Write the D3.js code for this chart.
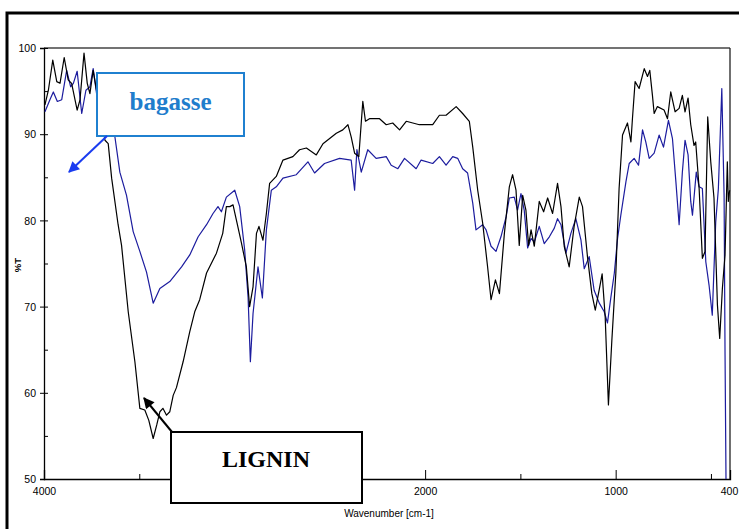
<!DOCTYPE html>
<html><head><meta charset="utf-8">
<script src="https://cdn.jsdelivr.net/npm/d3@7"></script>
<style>html,body{margin:0;padding:0;background:#fff;}svg{display:block;}</style>
</head><body>
<svg id="c" width="739" height="529"></svg>
<script>
// ---- data (wavenumber cm-1, %T) ----
const lignin = [
[3995,93.4],[3977,95.1],[3954,98.6],[3933,96.1],[3916,95.9],[3894,98.9],[3873,96.3],[3855,95.9],
[3826,92.8],[3811,94.0],[3790,99.4],[3773,95.9],[3759,94.7],[3742,97.4],[3707,92.8],[3680,89.3],
[3663,88.9],[3645,84.9],[3611,79.5],[3593,77.1],[3558,69.4],[3523,63.6],[3497,58.2],[3471,58.0],
[3450,56.8],[3427,54.7],[3408,56.3],[3392,57.8],[3376,58.2],[3357,57.4],[3340,57.8],[3322,59.7],
[3305,60.6],[3270,63.6],[3235,67.1],[3209,69.4],[3183,70.8],[3147,73.9],[3095,76.2],[3062,78.5],
[3043,81.6],[3025,81.6],[3008,81.8],[2990,80.0],[2964,77.4],[2938,74.6],[2921,70.0],[2903,72.3],
[2885,78.5],[2872,79.3],[2851,77.7],[2833,80.8],[2816,84.3],[2781,85.1],[2746,87.0],[2694,87.4],
[2659,88.2],[2623,88.4],[2597,88.0],[2571,87.6],[2536,88.9],[2501,89.5],[2466,90.1],[2432,90.5],
[2405,91.1],[2388,89.7],[2370,87.8],[2348,87.4],[2327,93.8],[2313,91.5],[2292,91.8],[2239,91.8],
[2204,91.1],[2170,91.3],[2134,90.5],[2099,91.5],[2030,91.1],[1960,91.1],[1925,92.2],[1890,92.2],
[1837,93.2],[1803,92.4],[1768,91.5],[1750,88.5],[1724,83.5],[1698,79.7],[1672,74.6],[1654,70.8],
[1631,73.1],[1610,71.5],[1584,78.5],[1558,83.9],[1541,85.3],[1523,83.5],[1506,77.1],[1488,82.9],
[1471,81.2],[1457,77.1],[1444,78.9],[1427,77.0],[1401,82.2],[1378,81.0],[1357,82.6],[1331,80.8],
[1305,84.3],[1287,81.6],[1270,77.0],[1244,74.6],[1218,79.3],[1191,82.7],[1174,81.6],[1148,75.8],
[1125,71.5],[1107,69.6],[1086,72.0],[1071,73.8],[1055,68.8],[1038,58.6],[1020,66.1],[999,73.9],
[982,83.7],[964,89.9],[938,91.3],[920,89.1],[912,91.8],[898,96.1],[877,95.3],[850,97.6],
[833,96.7],[821,97.4],[807,94.5],[798,92.4],[781,93.2],[746,92.8],[728,91.8],[711,94.9],
[688,92.6],[667,93.0],[650,94.5],[636,92.6],[620,94.2],[606,91.1],[589,88.7],[580,89.1],
[562,83.7],[545,75.6],[531,76.4],[517,92.0],[501,86.8],[484,82.6],[466,70.2],[454,66.3],
[440,72.1],[426,76.0],[414,86.8],[409,82.2],[402,83.5]
];
const bagasse = [
[3995,92.6],[3969,94.0],[3951,94.9],[3930,93.8],[3907,94.0],[3881,97.4],[3860,95.5],[3846,95.9],
[3826,97.3],[3802,92.4],[3780,95.1],[3759,95.5],[3742,97.6],[3724,94.7],[3707,95.7],[3680,94.0],
[3654,92.2],[3628,89.7],[3602,85.6],[3567,82.9],[3532,78.7],[3497,76.4],[3462,74.0],[3427,70.4],
[3392,72.1],[3340,72.9],[3278,74.6],[3235,76.0],[3191,78.1],[3147,79.5],[3113,80.8],[3087,81.6],
[3069,81.0],[3043,82.7],[2999,83.5],[2973,81.6],[2947,76.6],[2929,71.1],[2917,63.6],[2903,69.2],
[2877,74.6],[2854,71.0],[2833,78.9],[2807,83.5],[2781,83.9],[2746,84.9],[2676,85.3],[2615,86.8],
[2580,85.5],[2528,86.6],[2449,87.2],[2388,87.0],[2370,83.5],[2358,88.2],[2335,85.6],[2301,88.2],
[2257,87.2],[2204,87.4],[2178,86.4],[2143,86.0],[2108,87.2],[2047,86.0],[2021,87.0],[1960,86.6],
[1925,87.4],[1890,86.4],[1855,87.4],[1829,87.2],[1803,86.0],[1777,85.5],[1750,82.0],[1733,78.9],
[1698,79.5],[1680,78.9],[1654,77.0],[1628,76.4],[1602,78.1],[1575,80.4],[1558,82.6],[1532,82.7],
[1515,81.2],[1497,83.1],[1480,81.2],[1462,76.8],[1444,77.9],[1427,77.5],[1401,79.3],[1375,77.3],
[1348,78.1],[1322,79.1],[1305,80.2],[1287,79.5],[1261,76.2],[1235,78.5],[1209,80.2],[1182,77.7],
[1165,74.4],[1139,75.8],[1113,71.9],[1086,70.4],[1060,69.4],[1043,68.1],[1025,71.1],[1007,73.9],
[990,77.9],[973,80.6],[946,84.5],[929,86.6],[903,87.2],[880,86.4],[859,90.5],[842,89.1],
[824,87.2],[798,87.8],[772,89.9],[749,88.5],[723,91.6],[702,89.5],[684,84.5],[667,79.5],
[650,85.6],[636,89.3],[620,87.6],[606,82.2],[597,80.6],[577,85.6],[562,83.9],[545,83.7],
[527,75.2],[510,72.5],[493,69.0],[475,79.8],[461,83.7],[443,95.3],[431,82.9],[426,64.4],[421,50.0]
];
const yTicksMajor = [50,60,70,80,90,100];
const yTicksMinor = [55,65,75,85,95];
const xTicksMajor = [4000,3000,2000,1000,400];
const xTicksMinor = [3500,2500,1500,500];
const xLabel = "Wavenumber [cm-1]";
const yLabel = "%T";
const labels = {bagasse:"bagasse", lignin:"LIGNIN"};

// ---- drawing ----
const svg = d3.select("#c");
const L=44, R=730, T=48, B=479;
const x = d3.scaleLinear().domain([4000,400]).range([L,R]);
const y = d3.scaleLinear().domain([50,100]).range([B,T]);
const font = "'Liberation Sans', Arial, sans-serif";

// outer frame
svg.append("rect").attr("x",7).attr("y",13).attr("width",800).attr("height",600)
  .attr("fill","none").attr("stroke","#000").attr("stroke-width",3);

// plot box top/right
svg.append("line").attr("x1",L).attr("x2",R).attr("y1",T).attr("y2",T).attr("stroke","#444").attr("stroke-width",1.3);
svg.append("line").attr("x1",R).attr("x2",R).attr("y1",T).attr("y2",B).attr("stroke","#222").attr("stroke-width",1.3);

// axes
const yAxis = d3.axisLeft(y).tickValues(yTicksMajor).tickSize(4).tickPadding(3).tickFormat(d3.format("d"));
const gy = svg.append("g").attr("transform",`translate(${L},0)`).call(yAxis);
gy.selectAll(".tick line").attr("x1",4).attr("x2",-4);
gy.selectAll(".tick text").attr("dy","0.35em");
const yAxisMinor = d3.axisLeft(y).tickValues(yTicksMinor).tickSize(-4).tickFormat("");
svg.append("g").attr("transform",`translate(${L},0)`).call(yAxisMinor).select(".domain").remove();

const xAxis = d3.axisBottom(x).tickValues(xTicksMajor).tickSize(-9).tickPadding(12).tickFormat(d3.format("d"));
const gx = svg.append("g").attr("transform",`translate(0,${B})`).call(xAxis);
const xAxisMinor = d3.axisBottom(x).tickValues(xTicksMinor).tickSize(-5).tickFormat("");
svg.append("g").attr("transform",`translate(0,${B})`).call(xAxisMinor).select(".domain").remove();

svg.selectAll(".domain").attr("stroke","#000").attr("stroke-width",1.3);
svg.selectAll(".tick line").attr("stroke","#000").attr("stroke-width",1);
svg.selectAll(".tick text").attr("font-family",font).attr("font-size",10.5).attr("fill","#000");
gx.selectAll(".tick text").attr("dy","0.35em")
  .filter(d=>d===400).attr("dx","-1");
gy.selectAll(".tick text").attr("dx","-1");

svg.append("text").attr("x",389).attr("y",517).attr("text-anchor","middle")
  .attr("font-family",font).attr("font-size",10).text(xLabel);
svg.append("text").attr("transform","translate(21,265) rotate(-90)").attr("text-anchor","middle")
  .attr("font-family",font).attr("font-size",9.5).attr("font-weight","bold").text(yLabel);

// spectra
const line = d3.line().x(d=>x(d[0])).y(d=>y(d[1]));
svg.append("path").datum(bagasse).attr("d",line).attr("fill","none")
  .attr("stroke","#1c1c9e").attr("stroke-width",1.2).attr("stroke-linejoin","round");
svg.append("path").datum(lignin).attr("d",line).attr("fill","none")
  .attr("stroke","#000").attr("stroke-width",1.2).attr("stroke-linejoin","round");

// arrowheads
const defs = svg.append("defs");
function marker(id,color){
  defs.append("marker").attr("id",id).attr("viewBox","0 0 10 10").attr("refX",9).attr("refY",5)
   .attr("markerWidth",14).attr("markerHeight",11).attr("markerUnits","userSpaceOnUse").attr("orient","auto")
   .append("path").attr("d","M0,0 L10,5 L0,10 Z").attr("fill",color);
}
marker("ab","#1a3cf0"); marker("ak","#000");

// bagasse annotation
svg.append("rect").attr("x",97).attr("y",73).attr("width",147).attr("height",63)
  .attr("fill","#fff").attr("stroke","#1f80d0").attr("stroke-width",2);
svg.append("text").attr("x",170.5).attr("y",110).attr("text-anchor","middle")
  .attr("font-family","'Liberation Serif','Times New Roman',serif").attr("font-weight","bold")
  .attr("font-size",25).attr("fill","#1f7dcc").text(labels.bagasse);
svg.append("line").attr("x1",107).attr("y1",136).attr("x2",69).attr("y2",172)
  .attr("stroke","#1a3cf0").attr("stroke-width",2).attr("marker-end","url(#ab)");

// lignin annotation
svg.append("line").attr("x1",172).attr("y1",432).attr("x2",144).attr("y2",398)
  .attr("stroke","#000").attr("stroke-width",2).attr("marker-end","url(#ak)");
svg.append("rect").attr("x",171).attr("y",432).attr("width",191).attr("height",71)
  .attr("fill","#fff").attr("stroke","#000").attr("stroke-width",2);
svg.append("text").attr("x",266).attr("y",467).attr("text-anchor","middle")
  .attr("font-family","'Liberation Serif','Times New Roman',serif").attr("font-weight","bold")
  .attr("font-size",24).attr("fill","#000").text(labels.lignin);
</script>
</body></html>
